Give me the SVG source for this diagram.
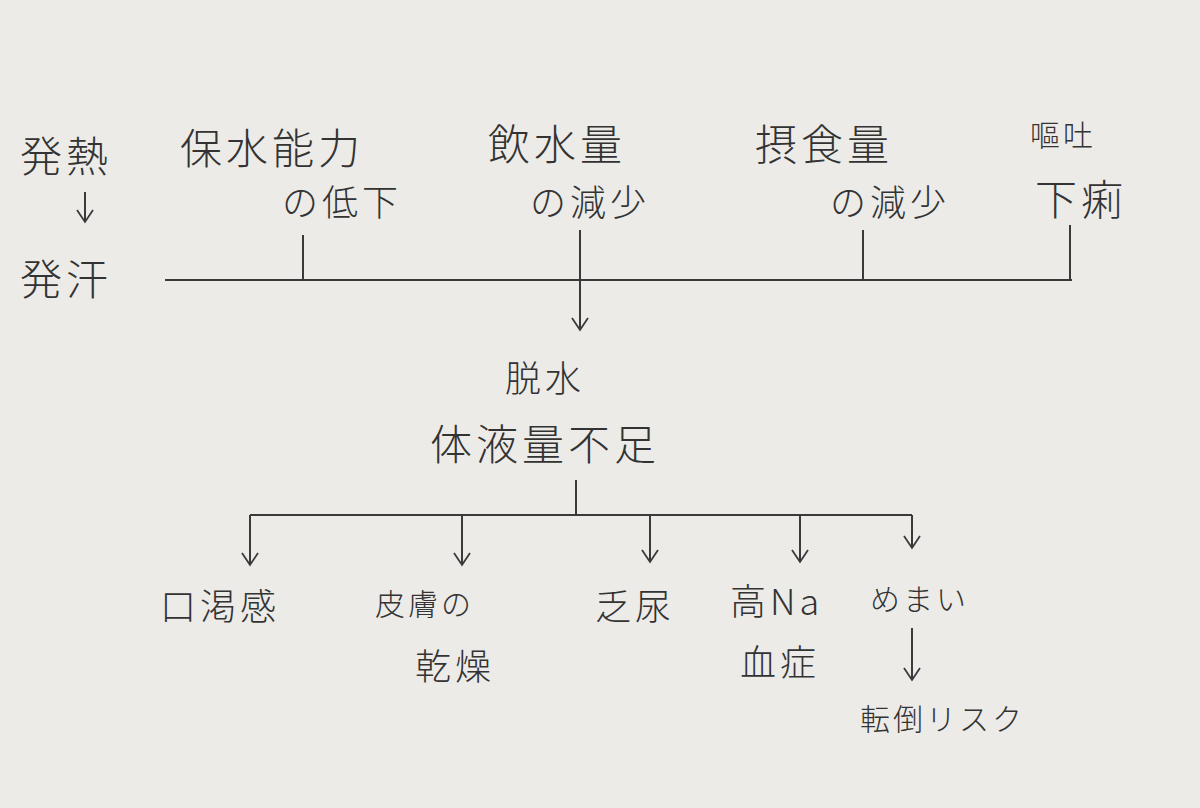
<svg xmlns="http://www.w3.org/2000/svg" width="1200" height="808" viewBox="0 0 1200 808">
<defs>
<marker id="ah" viewBox="0 0 20 20" refX="18" refY="10" markerWidth="20" markerHeight="20" markerUnits="userSpaceOnUse" orient="auto">
<path d="M6 2 L18 10 L6 18" fill="none" stroke="#3a3a3a" stroke-width="1.8"/>
</marker>
</defs>
<style>
text{font-family:"Noto Sans CJK JP","Noto Sans",sans-serif;fill:#333;font-weight:300}
.l{font-size:42px;letter-spacing:4px}.m{font-size:36px;letter-spacing:4px}.s{font-size:30px;letter-spacing:3px}
.c line{stroke:#3a3a3a;stroke-width:2;fill:none}
</style>
<rect width="1200" height="808" fill="#ecebe8"/>
<g class="c" id="connectors">
<line x1="85" y1="192" x2="85" y2="222" marker-end="url(#ah)"/>
<line x1="165" y1="280" x2="1072" y2="280"/>
<line x1="303" y1="235" x2="303" y2="280"/>
<line x1="580" y1="230" x2="580" y2="330" marker-end="url(#ah)"/>
<line x1="863" y1="230" x2="863" y2="280"/>
<line x1="1070" y1="225" x2="1070" y2="280"/>
<line x1="576" y1="480" x2="576" y2="515"/>
<line x1="250" y1="515" x2="912" y2="515"/>
<line x1="250" y1="515" x2="250" y2="565" marker-end="url(#ah)"/>
<line x1="462" y1="515" x2="462" y2="565" marker-end="url(#ah)"/>
<line x1="650" y1="515" x2="650" y2="562" marker-end="url(#ah)"/>
<line x1="800" y1="515" x2="800" y2="562" marker-end="url(#ah)"/>
<line x1="912" y1="515" x2="912" y2="548" marker-end="url(#ah)"/>
<line x1="912" y1="628" x2="912" y2="680" marker-end="url(#ah)"/>
</g>
<g id="n-hatsunetsu"><text class="l" x="20" y="172">発熱</text><text class="l" x="20" y="295">発汗</text></g>
<g id="n-hosui"><text class="l" x="180" y="164">保水能力</text><text class="m" x="282" y="216">の低下</text></g>
<g id="n-insui"><text class="l" x="488" y="160">飲水量</text><text class="m" x="530" y="216">の減少</text></g>
<g id="n-sesshoku"><text class="l" x="755" y="160">摂食量</text><text class="m" x="830" y="216">の減少</text></g>
<g id="n-outo"><text class="s" x="1030" y="146">嘔吐</text><text class="l" x="1035" y="215">下痢</text></g>
<g id="n-dassui"><text class="m" x="505" y="392">脱水</text><text class="l" x="430" y="460">体液量不足</text></g>
<g id="n-kokatsu"><text class="m" x="160" y="620">口渇感</text></g>
<g id="n-hifu"><text class="s" x="375" y="615">皮膚の</text><text class="m" x="415" y="680">乾燥</text></g>
<g id="n-bonyo"><text class="m" x="595" y="620">乏尿</text></g>
<g id="n-kouna"><text class="m" x="730" y="615">高Na</text><text class="m" x="740" y="676">血症</text></g>
<g id="n-memai"><text class="s" x="870" y="610">めまい</text><text class="s" x="860" y="730">転倒リスク</text></g>
</svg>
